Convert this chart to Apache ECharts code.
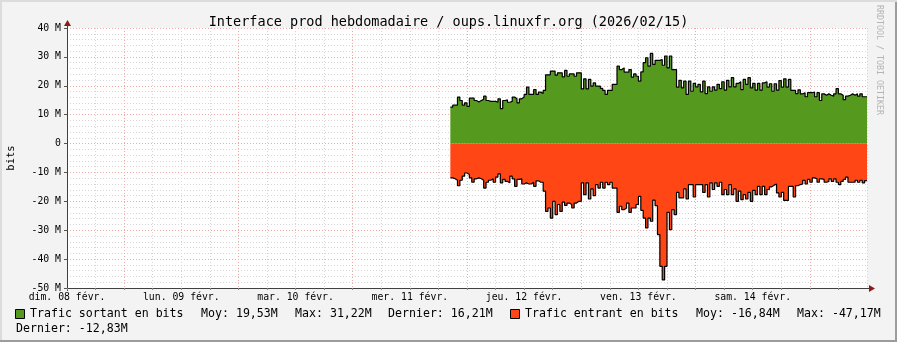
<!DOCTYPE html>
<html><head><meta charset="utf-8">
<script src="https://cdn.jsdelivr.net/npm/echarts@6/dist/echarts.min.js"></script>
<style>html,body{margin:0;padding:0;background:#f3f3f3}#c{width:897px;height:342px}</style>
</head><body><div id="c"></div><script>
// Time axis in hours from dim. 08 févr. 00:00
const dayLabels = ['dim. 08 févr.', 'lun. 09 févr.', 'mar. 10 févr.', 'mer. 11 févr.', 'jeu. 12 févr.', 'ven. 13 févr.', 'sam. 14 févr.'];
const yTicks = [-50, -40, -30, -20, -10, 0, 10, 20, 30, 40];
const startHour = 80.5;
const stepHours = 0.5;
const endHour = 168;
// Trafic sortant (M bits), one value per 30 min
const outValues = [12.6, 13.3, 13.3, 16.1, 14.9, 13.3, 14.1, 12.9, 15.7, 15.7, 14.9, 14.4, 14.9, 15.3, 16.4, 14.9, 14.6, 14.6, 14.6, 14.3, 15.5, 12.1, 14.9, 15.1, 14.3, 14.6, 16.1, 15.5, 14.1, 15.5, 16.1, 17.0, 19.5, 17.0, 17.0, 18.7, 17.0, 17.8, 17.3, 18.4, 23.8, 23.8, 25.1, 25.1, 23.7, 24.5, 24.5, 23.1, 25.3, 23.3, 24.1, 24.1, 23.3, 24.5, 24.5, 18.9, 22.4, 18.9, 22.2, 19.9, 21.0, 19.9, 19.9, 19.1, 18.4, 17.0, 18.4, 18.4, 20.5, 20.5, 26.8, 25.6, 26.2, 24.7, 24.7, 25.6, 23.0, 24.1, 23.3, 21.6, 24.8, 28.0, 29.7, 26.8, 31.2, 27.4, 28.8, 28.8, 29.1, 27.1, 30.3, 26.2,
  30.3, 25.6, 25.6, 19.5, 21.9, 19.3, 21.6, 17.0, 21.6, 18.1, 20.8, 19.6, 20.5, 17.9, 21.6, 17.3, 19.6, 18.1, 19.6, 18.5, 20.5, 19.0, 21.4, 18.5, 21.9, 19.6, 22.8, 19.6, 20.8, 21.4, 18.7, 22.2, 20.5, 22.8, 19.3, 20.8, 18.5, 20.8, 18.5, 21.0,
  21.4, 19.5, 20.7, 18.1, 20.7, 18.5, 21.8, 19.5, 22.4, 19.5, 22.2, 18.4, 18.4, 17.3, 18.6, 17.2, 17.6, 16.2, 17.6, 17.6, 17.8, 16.2, 17.6, 14.9, 17.2, 16.7, 17.2, 16.7, 16.4, 17.2, 19.0, 17.2, 16.7, 15.2, 16.4, 16.7, 17.2, 16.7, 17.2, 16.4, 17.2, 16.2, 16.2];
// Trafic entrant (M bits), one value per 30 min
const inValues = [-11.9, -12.2, -12.7, -14.6, -12.7, -11.3, -10.2, -10.7, -11.9, -13.4,
  -12.2, -11.9, -12.2, -12.7, -15.4, -13.4, -12.7, -12.2, -13.4, -11.6,
  -10.5, -13.6, -12.4, -13.1, -13.6, -11.3, -12.2, -14.8, -12.4, -12.2,
  -14.0, -13.6, -14.0, -14.0, -13.4, -14.8, -12.9, -13.4, -13.4, -16.5,
  -23.5, -22.3, -25.8, -20.0, -24.6, -21.1, -23.5, -20.3, -21.4, -20.6,
  -21.1, -22.3, -20.6, -20.0, -20.0, -13.6, -17.7, -13.6, -19.2, -15.7, -18.0,
  -14.2, -15.4, -13.4, -15.4, -13.4, -14.2, -13.4, -15.4, -15.4, -23.8, -21.7,
  -22.9, -22.3, -20.6, -23.8, -22.3, -22.3, -21.1, -18.3, -23.1, -25.8, -29.2,
  -25.8, -26.9, -19.6, -21.5, -31.5, -42.5, -47.2, -42.5, -23.8,
  -29.8, -22.9, -24.6, -16.9, -18.8, -18.8, -15.7, -19.2, -14.2, -14.2, -18.5, -14.2, -14.2, -14.2, -16.9, -14.2, -18.5, -13.6, -15.9, -13.6, -14.8, -13.4, -17.7, -15.9, -17.7, -14.2, -17.7, -15.7, -20.0, -16.5, -19.4, -17.7, -19.2, -16.9, -20.0, -16.2, -17.7, -14.8, -17.7, -14.8, -17.7, -15.9, -15.0, -14.4, -14.0, -17.1, -18.5, -16.9, -19.7, -19.7, -14.8, -14.8, -18.5, -14.6, -14.2, -14.0, -12.7, -14.0, -12.4, -13.4, -11.9, -12.2, -13.4, -12.2, -12.4, -13.4, -13.1, -12.2, -13.1, -12.2, -13.4, -14.2, -13.1, -12.4, -11.6, -13.4, -13.4, -13.4, -12.7, -13.4, -12.7, -13.6, -12.8];

const legendOut = ['Trafic sortant en bits', 'Moy: 19,53M', 'Max: 31,22M', 'Dernier: 16,21M'];
const legendIn = ['Trafic entrant en bits', 'Moy: -16,84M', 'Max: -47,17M', 'Dernier: -12,83M'];
const titleText = 'Interface prod hebdomadaire / oups.linuxfr.org (2026/02/15)';

function toSeries(vals) {
  const d = vals.map((v, i) => [startHour + i * stepHours, v]);
  d.push([endHour, vals[vals.length - 1]]);
  return d;
}

const MONO = 'DejaVu Sans Mono';
const GREEN = '#559A1F', ORANGE = '#FF4614';
const chart = echarts.init(document.getElementById('c'), null, {renderer: 'canvas'});
const gridGrey = '#d6d6d6', gridRed = '#efa8a8';
chart.setOption({
  animation: false,
  backgroundColor: '#f3f3f3',
  title: {text: titleText, left: 'center', top: 10,
    textStyle: {fontFamily: MONO, fontSize: 13.5, fontWeight: 'normal', color: '#000'}},
  grid: {left: 67, right: 30, top: 28, bottom: 54, show: true, backgroundColor: '#fff', borderWidth: 0,
    containLabel: false, outerBoundsMode: 'none'},
  xAxis: {type: 'value', min: 0, max: endHour, interval: 6,
    axisLine: {show: false, onZero: false}, axisTick: {show: true, length: 2, lineStyle: {color: '#888'}},
    axisLabel: {fontFamily: MONO, fontSize: 9.8, color: '#000', margin: 4, showMaxLabel: false,
      formatter: v => (v % 24 === 0 && v / 24 < dayLabels.length) ? dayLabels[v / 24] : ''},
    splitLine: {show: true, lineStyle: {color: [gridGrey, gridGrey, gridRed, gridGrey], type: [1, 2], width: 1}}},
  yAxis: {type: 'value', min: yTicks[0], max: yTicks[yTicks.length - 1], interval: 10,
    name: 'bits', nameLocation: 'middle', nameGap: 50, nameRotate: 90,
    nameTextStyle: {fontFamily: MONO, fontSize: 10.5, color: '#000'},
    axisLine: {show: false, onZero: false}, axisTick: {show: true, length: 3, lineStyle: {color: '#555'}},
    axisLabel: {fontFamily: MONO, fontSize: 9.8, color: '#000', margin: 6,
      formatter: v => v === 0 ? '0' : v + ' M'},
    splitLine: {show: true, lineStyle: {color: gridRed, type: [1, 2]}},
    minorTick: {show: false, splitNumber: 5},
    minorSplitLine: {show: true, lineStyle: {color: gridGrey, type: [1, 2]}}},
  series: [
    {name: legendOut[0], type: 'line', step: 'end', symbol: 'none', data: toSeries(outValues),
      lineStyle: {color: '#000', width: 1.2}, areaStyle: {color: GREEN, opacity: 1, origin: 0}, z: 3},
    {name: legendIn[0], type: 'line', step: 'end', symbol: 'none', data: toSeries(inValues),
      lineStyle: {color: '#000', width: 1.2}, areaStyle: {color: ORANGE, opacity: 1, origin: 0}, z: 3}
  ]
});

const p0 = chart.convertToPixel({gridIndex: 0}, [0, yTicks[0]]);
const p1 = chart.convertToPixel({gridIndex: 0}, [endHour, yTicks[yTicks.length - 1]]);
const axisCol = '#404040', arrowCol = '#8a1c1c';
const ly = 314, ly2 = 328.5;
const txt = (x, y, s, extra) => Object.assign({type: 'text', x: x, y: y,
  style: {text: s, fontFamily: MONO, fontSize: 11.6, fill: '#000', verticalAlign: 'middle'}}, extra || {});
chart.setOption({graphic: [
  {type: 'line', shape: {x1: p0[0] - 3, y1: p0[1] + 0.5, x2: p1[0] + 4, y2: p0[1] + 0.5}, style: {stroke: axisCol, lineWidth: 1}},
  {type: 'line', shape: {x1: p0[0] + 0.5, y1: p0[1] + 3, x2: p0[0] + 0.5, y2: p1[1] - 5}, style: {stroke: axisCol, lineWidth: 1}},
  {type: 'polygon', shape: {points: [[p1[0] + 2, p0[1] - 3], [p1[0] + 8, p0[1] + 0.5], [p1[0] + 2, p0[1] + 4]]}, style: {fill: arrowCol}},
  {type: 'polygon', shape: {points: [[p0[0] - 3, p1[1] - 2], [p0[0] + 0.5, p1[1] - 8], [p0[0] + 4, p1[1] - 2]]}, style: {fill: arrowCol}},
  {type: 'rect', shape: {x: 15.5, y: 309.5, width: 9, height: 9}, style: {fill: GREEN, stroke: '#000', lineWidth: 1}},
  txt(30, ly, legendOut[0]), txt(201, ly, legendOut[1]), txt(295, ly, legendOut[2]), txt(388, ly, legendOut[3]),
  {type: 'rect', shape: {x: 510.5, y: 309.5, width: 9, height: 9}, style: {fill: ORANGE, stroke: '#000', lineWidth: 1}},
  txt(525, ly, legendIn[0]), txt(696, ly, legendIn[1]), txt(797, ly, legendIn[2]), txt(16, ly2, legendIn[3]),
  {type: 'text', x: 883, y: 5, rotation: -Math.PI / 2,
    style: {text: 'RRDTOOL / TOBI OETIKER', fontFamily: MONO, fontSize: 8.3, fill: '#b4b4b4'}},
  {type: 'rect', shape: {x: 0, y: 340, width: 897, height: 2}, style: {fill: '#9c9c9c'}},
  {type: 'rect', shape: {x: 895, y: 0, width: 2, height: 342}, style: {fill: '#9c9c9c'}},
  {type: 'rect', shape: {x: 0, y: 0, width: 897, height: 2}, style: {fill: '#dcdcdc'}},
  {type: 'rect', shape: {x: 0, y: 0, width: 2, height: 340}, style: {fill: '#dcdcdc'}}
]});
</script></body></html>
